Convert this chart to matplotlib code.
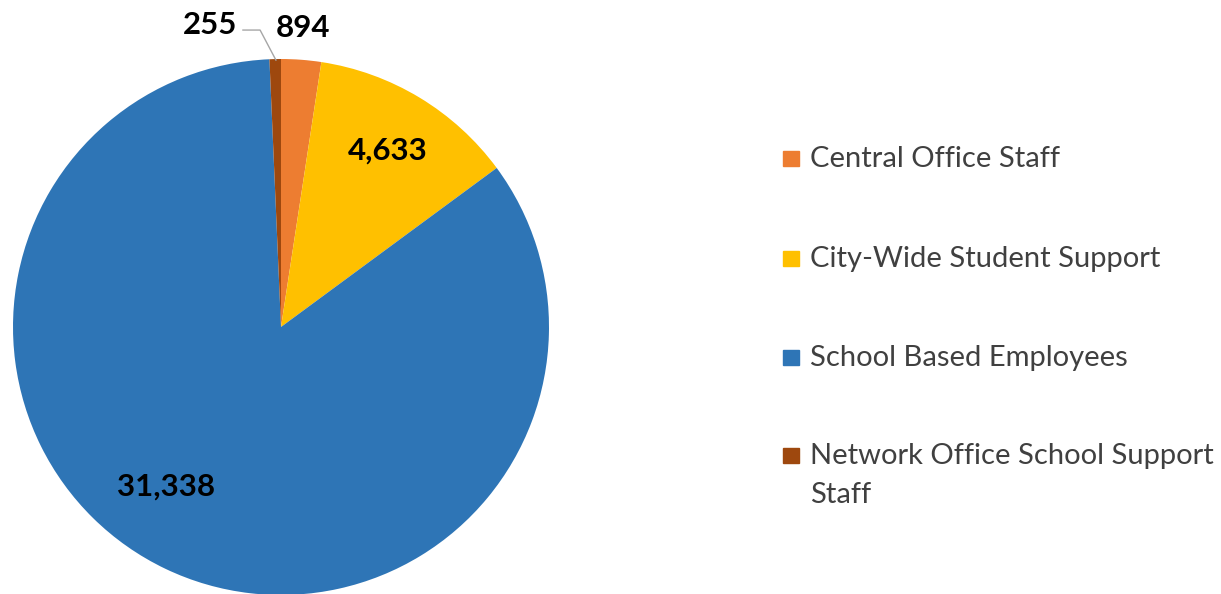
import matplotlib.pyplot as plt
from matplotlib.patches import Rectangle

# staff counts per group, clockwise from 12 o'clock
labels = ['Central Office Staff', 'City-Wide Student Support',
          'School Based Employees', 'Network Office School Support\nStaff']
values = [894, 4633, 31338, 255]
colors = ['#ED7D31', '#FFC000', '#2E75B6', '#9E480E']

plt.rcParams['font.family'] = ['Lato', 'DejaVu Sans']

W, H = 1221, 594
fig = plt.figure(figsize=(W / 100, H / 100), dpi=100)
ax = fig.add_axes([13 / W, -1 / H, 536 / W, 536 / H])
wedges, _ = ax.pie(values, colors=colors, startangle=90, counterclock=False,
                   radius=1.0)
ax.set_xlim(-1, 1)
ax.set_ylim(-1, 1)
ax.set_aspect('equal')

# data labels, placed roughly where the original puts them
label_pos = [(0.082, 1.116), (0.399, 0.660), (-0.429, -0.597), (-0.265, 1.127)]
for v, (x, y) in zip(values, label_pos):
    ax.text(x, y, f'{v:,}', ha='center', va='center', fontsize=22.5,
            fontweight='bold', color='black', clip_on=False)

# leader line for the small slice
ax.plot([-0.142, -0.078, -0.019], [1.108, 1.108, 0.996], color='#a6a6a6',
        lw=1, clip_on=False)

# legend drawn by hand so rows sit like the original (pixel baselines)
baselines = [167, 267, 366, 464]
for lab, col, b in zip(labels, colors, baselines):
    fig.patches.append(Rectangle((783 / W, 1 - (b - 1) / H), 16 / W, 15 / H,
                                 transform=fig.transFigure, color=col))
    for i, line in enumerate(lab.split('\n')):
        fig.text(810 / W, 1 - (b + 39 * i) / H, line, ha='left',
                 va='baseline', fontsize=21, color='#404040')

fig.savefig('out.png', dpi=100)
